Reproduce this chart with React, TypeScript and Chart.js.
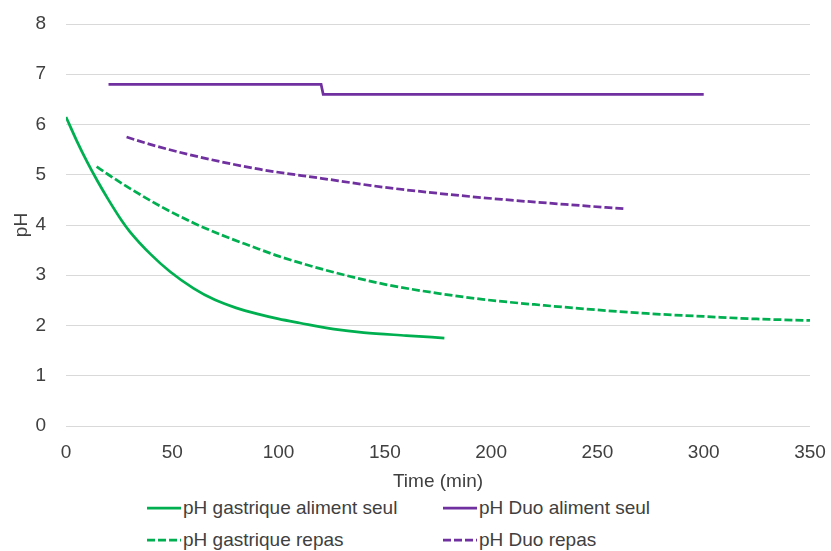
import React, { useEffect, useRef } from "react";
import { Chart, registerables } from "chart.js";

Chart.register(...registerables);

// ---- data ----
const gastSeulTime = [0, 5, 10, 15, 20, 26, 30, 40, 49, 60, 70, 80, 90, 100, 110, 126, 140, 160, 178];
const gastSeulPH = [6.15, 5.68, 5.25, 4.86, 4.5, 4.1, 3.87, 3.41, 3.07, 2.74, 2.51, 2.35, 2.23, 2.13, 2.05, 1.93, 1.86, 1.8, 1.75];

const duoSeulTime = [20, 120, 121, 300];
const duoSeulPH = [6.8, 6.8, 6.6, 6.6];

const gastRepasTime = [14.4, 20, 30, 45, 60, 75, 87, 100, 125, 150, 175, 196, 225, 250, 273, 300, 325, 350];
const gastRepasPH = [5.16, 5.0, 4.73, 4.36, 4.04, 3.77, 3.58, 3.38, 3.07, 2.82, 2.64, 2.52, 2.4, 2.31, 2.24, 2.18, 2.13, 2.1];

const duoRepasTime = [28.5, 40, 60, 91, 120, 148, 175, 205, 235, 263.5];
const duoRepasPH = [5.75, 5.6, 5.38, 5.11, 4.93, 4.76, 4.63, 4.51, 4.41, 4.32];

const seriesNames = [
  "pH gastrique aliment seul",
  "pH Duo aliment seul",
  "pH gastrique repas",
  "pH Duo repas",
];

const xTitle = "Time (min)";
const yTitle = "pH";

const GREEN = "#00B050";
const PURPLE = "#7030A0";
const TEXT = "#404040";
const FONT = "'Liberation Sans', Arial, sans-serif";
const DASH = [8, 3];

const toXY = (xs: number[], ys: number[]) => xs.map((x, i) => ({ x, y: ys[i] }));

const legendItems = [
  { name: seriesNames[0], color: GREEN, dashed: false, left: 147, top: 496 },
  { name: seriesNames[1], color: PURPLE, dashed: false, left: 443, top: 496 },
  { name: seriesNames[2], color: GREEN, dashed: true, left: 147, top: 528 },
  { name: seriesNames[3], color: PURPLE, dashed: true, left: 443, top: 528 },
];

export default function App() {
  const ref = useRef<HTMLCanvasElement | null>(null);

  useEffect(() => {
    if (!ref.current) return;
    const common = { pointRadius: 0, borderWidth: 2.75, fill: false, cubicInterpolationMode: "monotone" as const };
    const chart = new Chart(ref.current, {
      type: "line",
      data: {
        datasets: [
          { label: seriesNames[0], data: toXY(gastSeulTime, gastSeulPH), borderColor: GREEN, backgroundColor: GREEN, ...common },
          { label: seriesNames[1], data: toXY(duoSeulTime, duoSeulPH), borderColor: PURPLE, backgroundColor: PURPLE, ...common, tension: 0, cubicInterpolationMode: "default" },
          { label: seriesNames[2], data: toXY(gastRepasTime, gastRepasPH), borderColor: GREEN, backgroundColor: GREEN, borderDash: DASH, ...common },
          { label: seriesNames[3], data: toXY(duoRepasTime, duoRepasPH), borderColor: PURPLE, backgroundColor: PURPLE, borderDash: DASH, ...common },
        ] as any,
      },
      options: {
        animation: false,
        responsive: false,
        devicePixelRatio: 1,
        layout: { padding: { top: 24, right: 21, left: 0, bottom: 0 } },
        plugins: { legend: { display: false }, tooltip: { enabled: false } },
        scales: {
          x: {
            type: "linear",
            min: 0,
            max: 350,
            ticks: { stepSize: 50, color: TEXT, font: { family: FONT, size: 19 }, padding: 15, maxRotation: 0 },
            grid: { display: false, drawTicks: false },
            border: { display: false },
            title: { display: true, text: xTitle, color: TEXT, font: { family: FONT, size: 19 }, padding: { top: 0, bottom: 2 } },
            afterFit: (s: any) => { s.height = 69; s.paddingLeft = 0; s.paddingRight = 0; },
          },
          y: {
            min: 0,
            max: 8,
            ticks: { stepSize: 1, color: TEXT, font: { family: FONT, size: 19 }, padding: 20 },
            grid: { color: "#D9D9D9", lineWidth: 1, drawTicks: false },
            border: { display: false },
            title: { display: true, text: yTitle, color: TEXT, font: { family: FONT, size: 19 }, padding: { top: 10, bottom: 0 } },
            afterFit: (s: any) => { s.width = 66; s.paddingTop = 0; s.paddingBottom = 0; },
          },
        },
      } as any,
    });
    return () => chart.destroy();
  }, []);

  return (
    <div style={{ position: "absolute", left: 0, top: 0, width: 831, height: 551, background: "#fff", fontFamily: FONT }}>
      <canvas ref={ref} width={831} height={495} style={{ display: "block", width: 831, height: 495 }} />
      {legendItems.map((it) => (
        <div
          key={it.name}
          style={{ position: "absolute", left: it.left, top: it.top, height: 24, display: "flex", alignItems: "center", color: TEXT, fontSize: 19, whiteSpace: "nowrap" }}
        >
          <svg width={34} height={6} style={{ marginRight: 2 }}>
            <line x1={0} y1={3} x2={34} y2={3} stroke={it.color} strokeWidth={2.75} strokeDasharray={it.dashed ? DASH.join(" ") : undefined} />
          </svg>
          <span>{it.name}</span>
        </div>
      ))}
    </div>
  );
}
